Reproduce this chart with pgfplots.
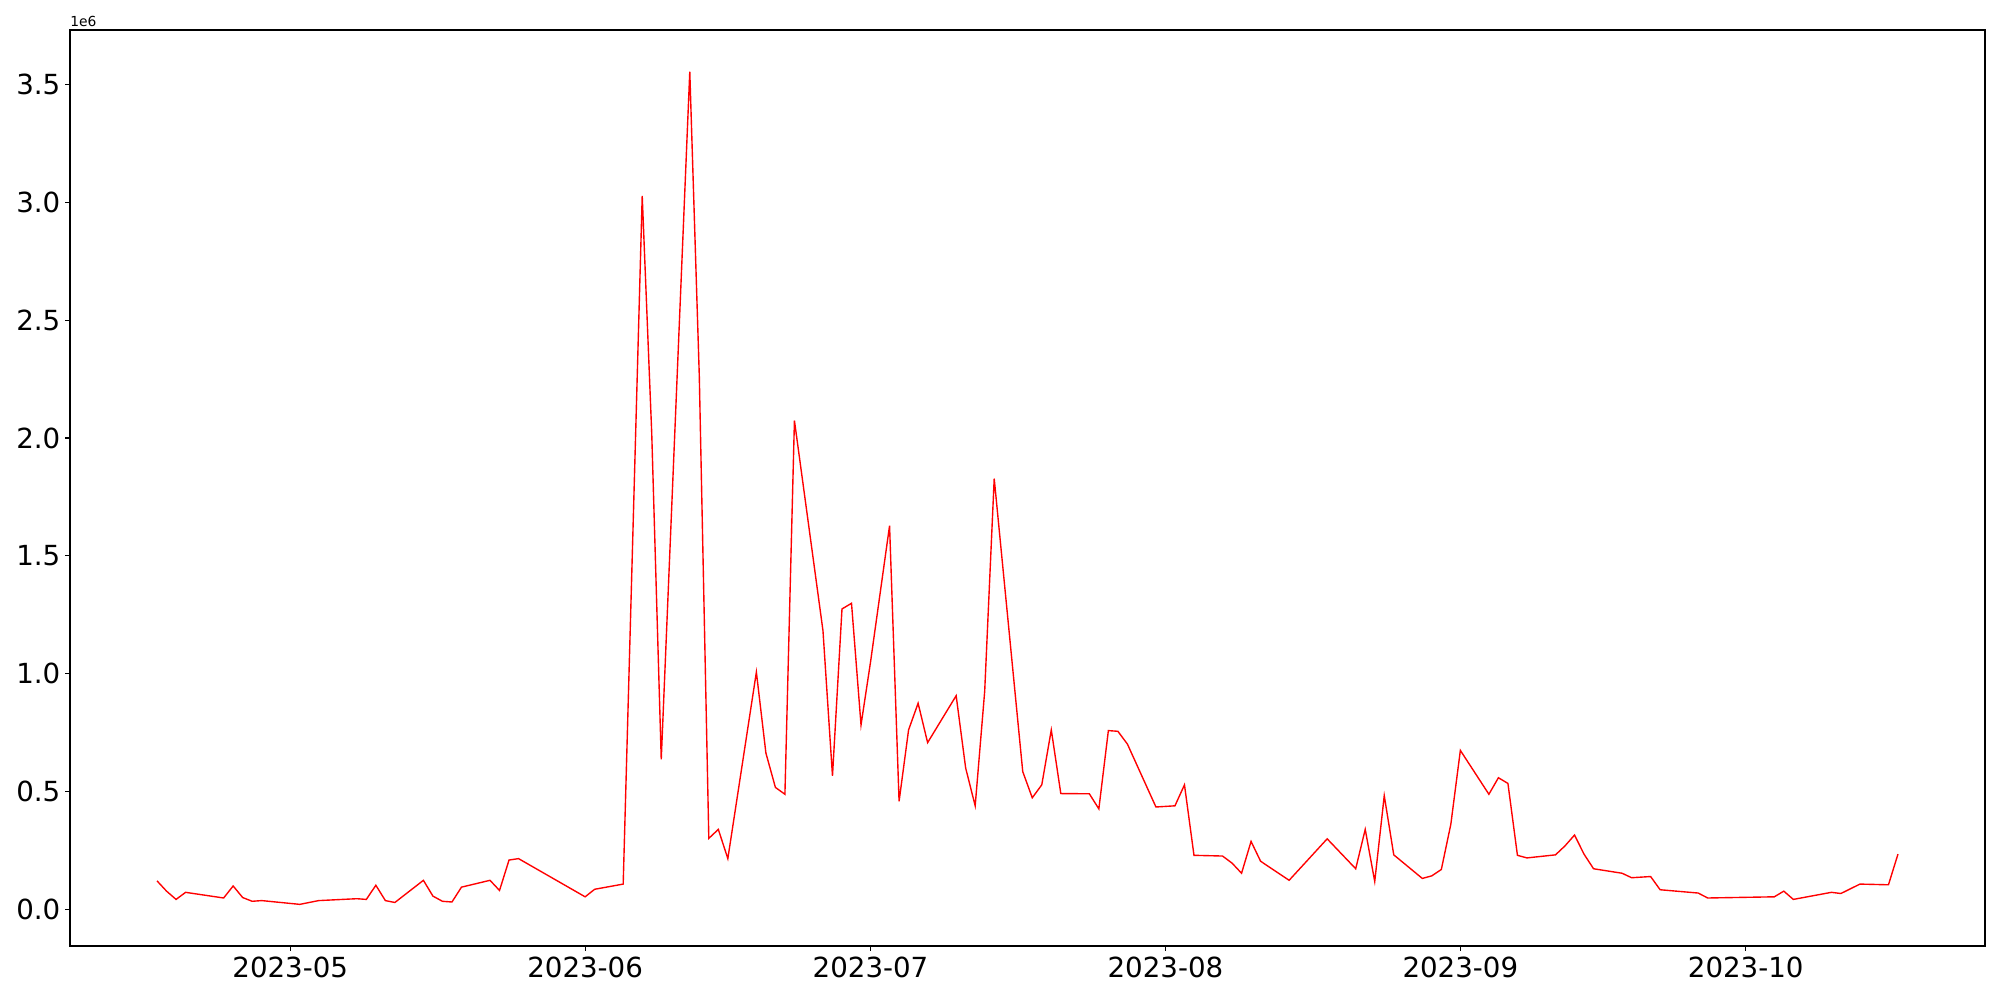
\documentclass[border=0pt]{standalone}
\usepackage{fontspec}
\setmainfont{DejaVu Sans}
\usepackage{pgfplots}
\pgfplotsset{compat=1.18}

% x = days counted from 2023-05-01, y in units of 1e6
\pgfplotstableread{
x y
-14 0.1215
-13 0.078
-12 0.043
-11 0.073
-7 0.049
-6 0.100
-5 0.051
-4 0.035
-3 0.038
1 0.022
3 0.038
7 0.046
8 0.043
9 0.103
10 0.038
11 0.030
14 0.124
15 0.057
16 0.035
17 0.032
18 0.095
21 0.124
22 0.081
23 0.210
24 0.216
31 0.054
32 0.086
35 0.108
37 3.027
38 2.020
39 0.637
42 3.554
43 2.263
44 0.302
45 0.340
46 0.216
49 1.007
50 0.664
51 0.518
52 0.489
53 2.074
56 1.183
57 0.567
58 1.275
59 1.299
60 0.783
61 1.050
63 1.628
64 0.459
65 0.762
66 0.875
67 0.708
70 0.907
71 0.600
72 0.440
73 0.926
74 1.828
77 0.585
78 0.474
79 0.529
80 0.762
81 0.492
84 0.491
85 0.427
86 0.759
87 0.756
88 0.702
91 0.435
93 0.440
94 0.529
95 0.230
98 0.227
99 0.197
100 0.154
101 0.289
102 0.205
105 0.124
109 0.300
112 0.173
113 0.340
114 0.119
115 0.483
116 0.232
119 0.132
120 0.143
121 0.170
122 0.362
123 0.675
126 0.489
127 0.559
128 0.535
129 0.230
130 0.219
133 0.232
134 0.270
135 0.316
136 0.235
137 0.173
140 0.154
141 0.135
143 0.140
144 0.084
148 0.070
149 0.049
156 0.054
157 0.078
158 0.043
162 0.073
163 0.068
165 0.108
168 0.105
169 0.235
}\series

\begin{document}
\begin{tikzpicture}
\path[use as bounding box] (-0.70in,-0.54in) rectangle (19.30in,9.46in);
\begin{axis}[
    name=ax,
    at={(0,0)}, anchor=south west,
    scale only axis,
    width=19.15in, height=9.16in,
    xmin=-23.15, xmax=178.15,
    ymin=-0.1546, ymax=3.7306,
    xtick={0,31,61,92,123,153},
    xticklabels={2023-05,2023-06,2023-07,2023-08,2023-09,2023-10},
    ytick={0,0.5,1,1.5,2,2.5,3,3.5},
    yticklabels={0.0,0.5,1.0,1.5,2.0,2.5,3.0,3.5},
    tick align=outside,
    tick pos=left,
    major tick length=3.5pt,
    axis line style={line width=0.8pt},
    every tick/.style={black, line width=0.8pt},
    tick label style={font=\fontsize{20}{24}\selectfont},
    xticklabel style={yshift=-1pt},
    /pgf/number format/assume math mode=true,
]
\addplot[color=red, line width=1pt] table[x=x, y=y] {\series};
\end{axis}
\node[anchor=south west, font=\fontsize{10}{12}\selectfont, inner sep=0pt, yshift=2pt] at (ax.north west) {1e6};
\end{tikzpicture}
\end{document}
